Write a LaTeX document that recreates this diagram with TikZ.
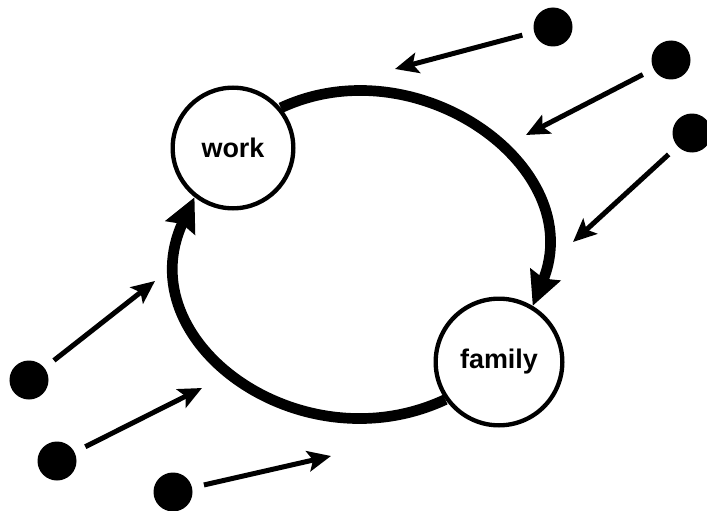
\documentclass[tikz,border=0pt]{standalone}
\usepackage{fontspec}
\setsansfont{Liberation Sans}
\usepackage{tikz}
\usetikzlibrary{arrows.meta,positioning}

\begin{document}
\begin{tikzpicture}[
    sphere/.style={circle, draw=black, line width=0.13cm, fill=white, inner sep=0pt, font=\sffamily\bfseries\fontsize{23}{27}\selectfont},
    source/.style={circle, fill=black, minimum size=1.17cm, inner sep=0pt},
    influence/.style={line width=0.15cm, -{Stealth[length=0.7cm, width=0.62cm, inset=0.15cm]}, shorten <=0.36cm},
    loopline/.style={line width=0.32cm, -{Stealth[length=1cm, width=0.95cm, inset=0.12cm]}}
]
    \useasboundingbox (0,0) rectangle (21.21,-15.33);

    % the two spheres
    \node[sphere, minimum size=3.62cm] (work) at (6.99,-4.44) {work};
    \node[sphere, minimum size=3.8cm] (family) at (14.97,-10.86) {family};

    % the cycle between them
    \draw[loopline] (work.40) to[out=25, in=68, looseness=1.2] (family.59);
    \draw[loopline] (family.215) to[out=205, in=245, looseness=1.27] (work.232);

    % outside sources, upper right
    \node[source] (d1) at (16.59,-0.81) {};
    \node[source] (d2) at (20.13,-1.80) {};
    \node[source] (d3) at (20.76,-3.99) {};
    \coordinate (t1) at (11.85,-2.07);
    \coordinate (t2) at (15.78,-4.05);
    \coordinate (t3) at (17.19,-7.26);

    % outside sources, lower left
    \node[source] (d4) at (0.87,-11.40) {};
    \node[source] (d5) at (1.71,-13.83) {};
    \node[source] (d6) at (5.19,-14.76) {};
    \coordinate (t4) at (4.65,-8.43);
    \coordinate (t5) at (6.06,-11.64);
    \coordinate (t6) at (9.93,-13.68);

    \draw[influence] (d1) -- (t1);
    \draw[influence] (d2) -- (t2);
    \draw[influence] (d3) -- (t3);
    \draw[influence] (d4) -- (t4);
    \draw[influence] (d5) -- (t5);
    \draw[influence] (d6) -- (t6);
\end{tikzpicture}
\end{document}
